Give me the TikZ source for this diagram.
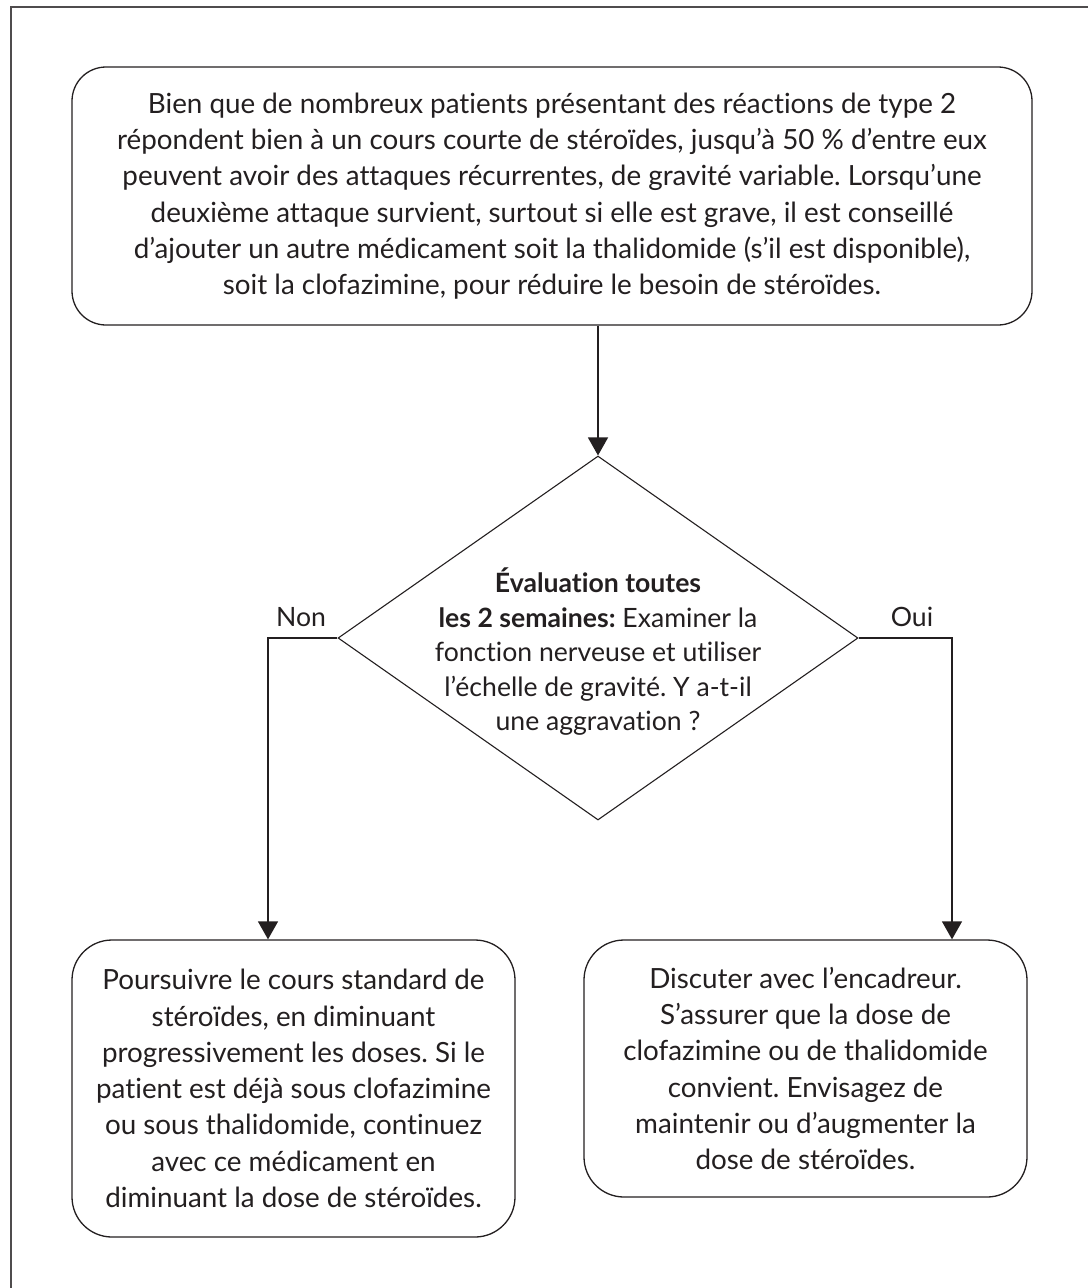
\documentclass[tikz,border=0pt]{standalone}
\usepackage{fontspec}
\setmainfont{Lato}[Ligatures={NoCommon}]
\usetikzlibrary{shapes.geometric,arrows.meta,calc}
\definecolor{ink}{HTML}{231F20}
\frenchspacing
\begin{document}
\begin{tikzpicture}[x=1pt,y=-1pt,
  every node/.style={text=ink,font=\fontsize{26.6}{36.3}\selectfont},
  box/.style={draw=ink,line width=1.3pt,rounded corners=#1,inner sep=0pt,align=center},
  box/.default=40pt,
  boxtext/.style={font=\fontsize{27.8}{36.3}\selectfont},
  conn/.style={draw=ink,line width=1.3pt},
  arr/.style={conn,-{Triangle[width=20pt,length=18pt]}},
  lbl/.style={inner sep=0pt,anchor=base}
]
\useasboundingbox (0,0) rectangle (1088,1288);
\draw[draw=ink!80,line width=1.6pt] (11,1288) -- (11,7) -- (1088,7);

\node[box=34pt,boxtext,minimum width=960pt,minimum height=258pt] (top) at (552,196)
{Bien que de nombreux patients présentant des réactions de type 2\\
répondent bien à un cours courte de stéroïdes, jusqu’à 50 \% d’entre eux\\
peuvent avoir des attaques récurrentes, de gravité variable. Lorsqu’une\\
deuxième attaque survient, surtout si elle est grave, il est conseillé\\
d’ajouter un autre médicament soit la thalidomide (s’il est disponible),\\
soit la clofazimine, pour réduire le besoin de stéroïdes.};

\node[draw=ink,line width=1.1pt,shape=diamond,minimum width=520pt,minimum height=364pt,inner sep=0pt] (dia) at (598,638) {};
\node[align=center,inner sep=0pt,font=\fontsize{26.6}{34.5}\selectfont] (diatext) at (598,652)
{\textbf{Évaluation toutes}\\
\textbf{les 2 semaines:} Examiner la\\
fonction nerveuse et utiliser\\
l’échelle de gravité. Y a-t-il\\
une aggravation ?};

\node[box,boxtext,minimum width=443pt,minimum height=297pt] (lb) at (293.5,1088.5)
{Poursuivre le cours standard de\\
stéroïdes, en diminuant\\
progressivement les doses. Si le\\
patient est déjà sous clofazimine\\
ou sous thalidomide, continuez\\
avec ce médicament en\\
diminuant la dose de stéroïdes.};

\node[box,boxtext,minimum width=443pt,minimum height=257pt] (rb) at (805.5,1068.5)
{Discuter avec l’encadreur.\\
S’assurer que la dose de\\
clofazimine ou de thalidomide\\
convient. Envisagez de\\
maintenir ou d’augmenter la\\
dose de stéroïdes.};

\coordinate (nonturn) at (268,638);
\coordinate (ouiturn) at (952,638);

\draw[arr] (top.south -| dia.north) -- (dia.north);
\draw[arr] (dia.west) -- (nonturn) -- (nonturn |- lb.north);
\draw[arr] (dia.east) -- (ouiturn) -- (ouiturn |- rb.north);

\node[lbl] (non) at (301,626) {Non};
\node[lbl] (oui) at (912,626) {Oui};
\end{tikzpicture}
\end{document}
